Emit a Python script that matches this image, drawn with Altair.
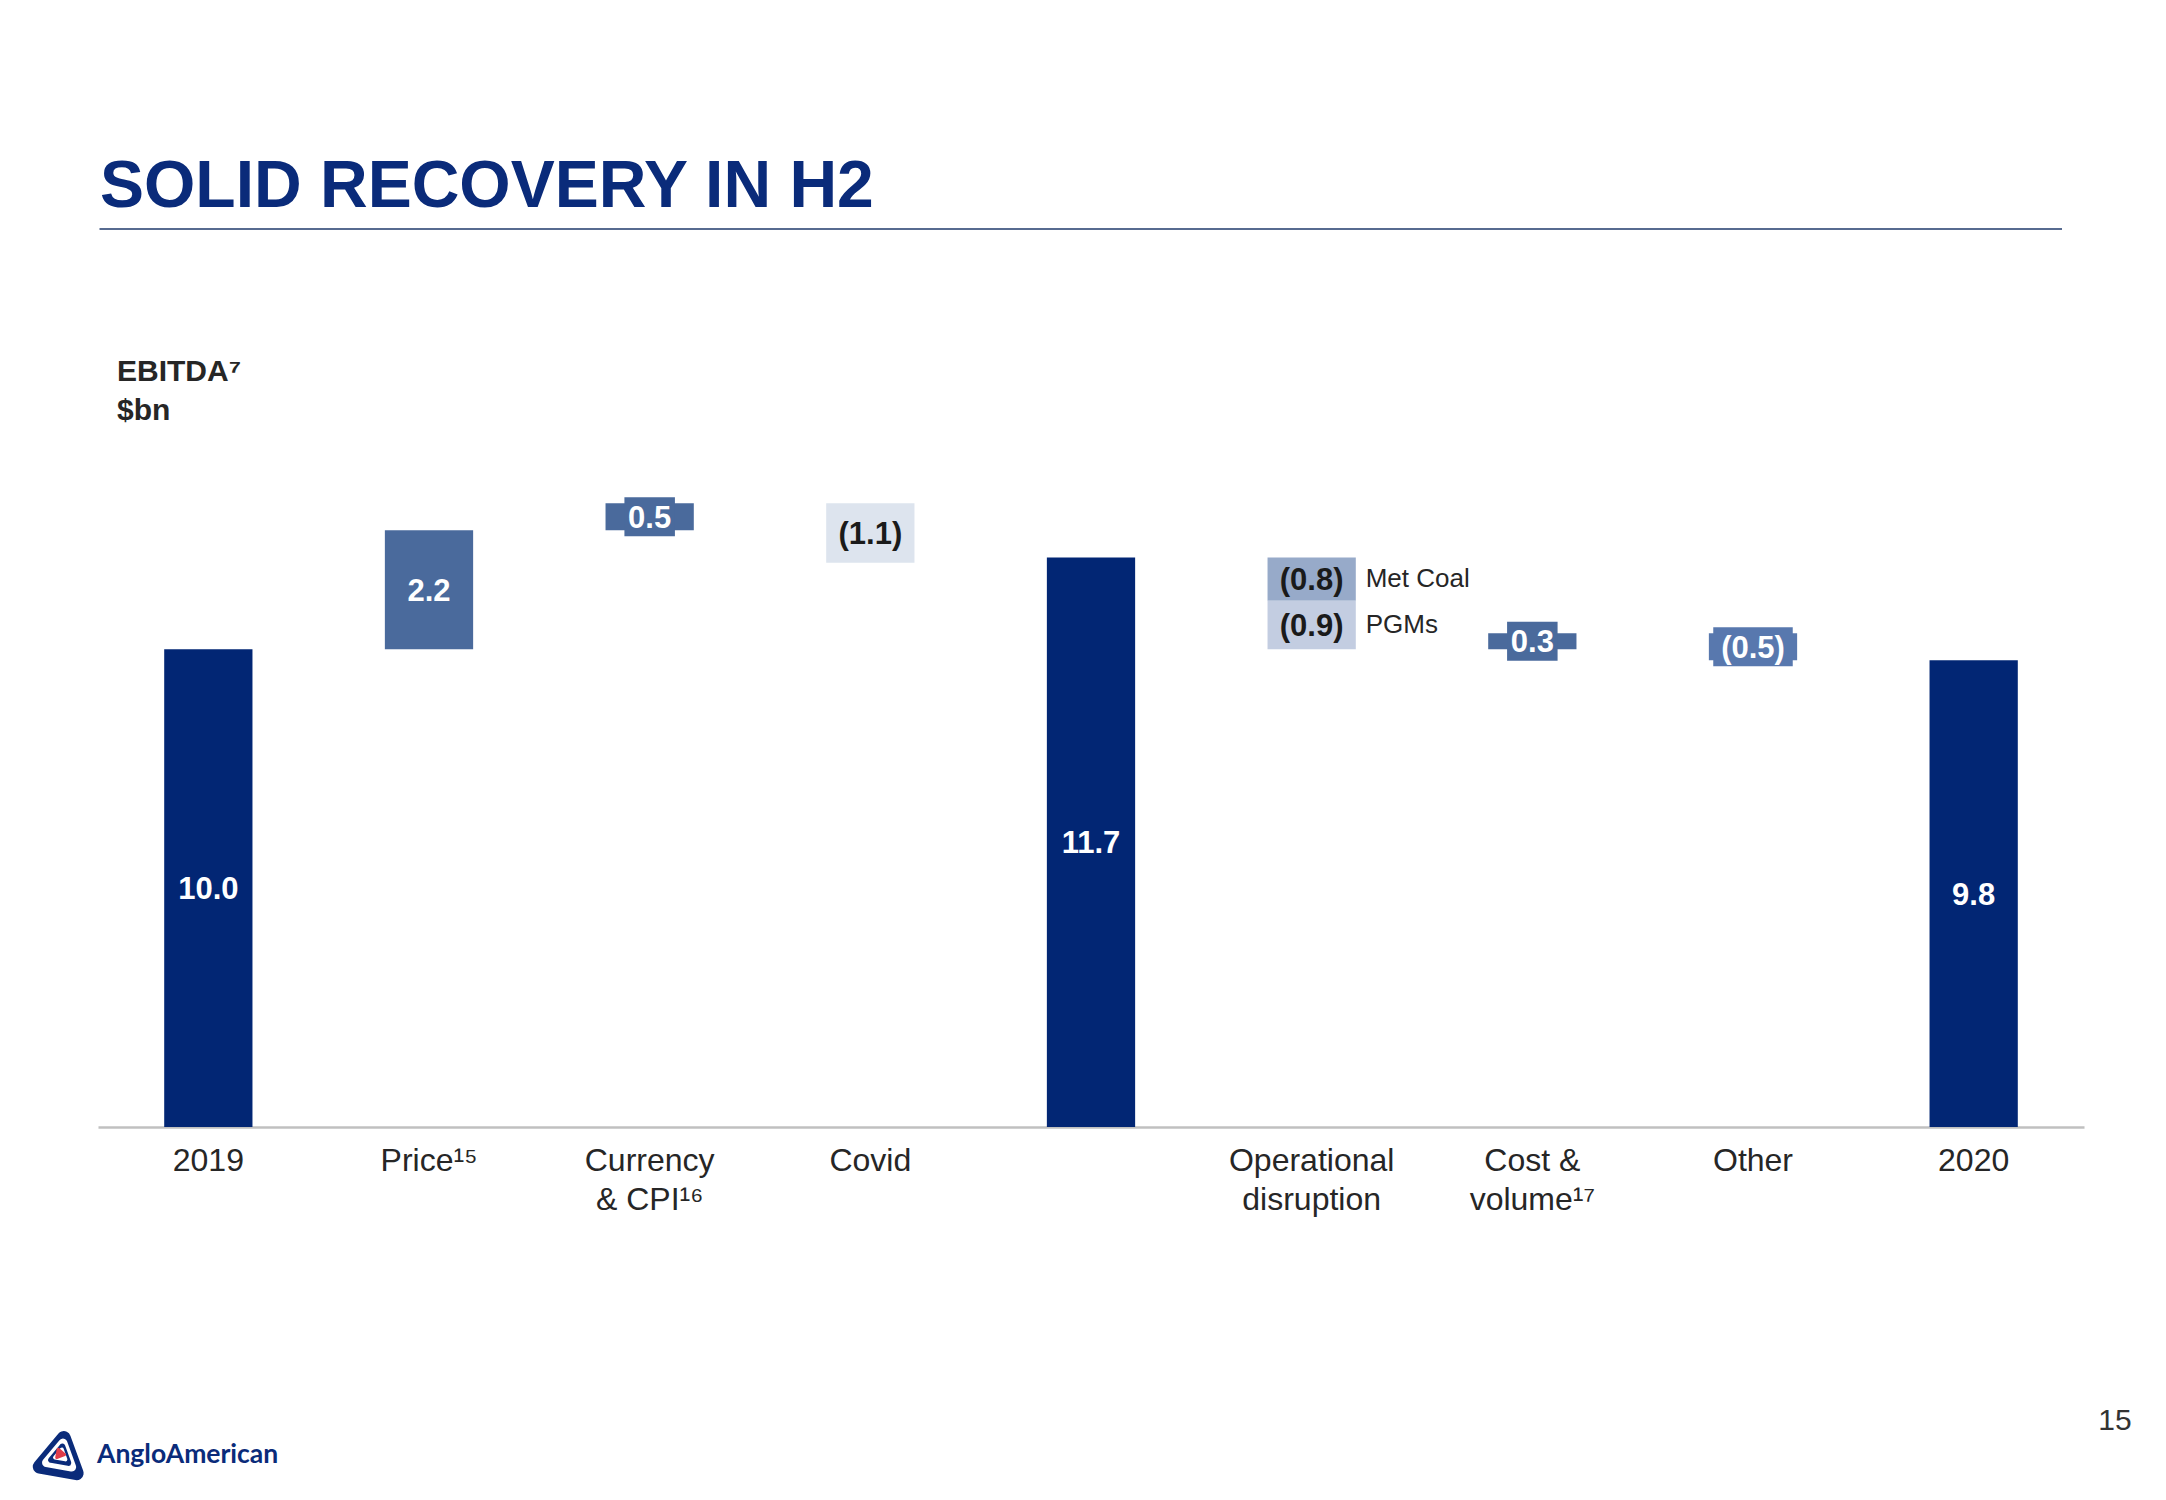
import altair as alt
import pandas as pd

# ---------------- data ----------------
TITLE = "SOLID RECOVERY IN H2"
Y_TITLE = "EBITDA\u2077\n$bn"
PAGE_NUMBER = "15"
BRAND = "AngloAmerican"

CATEGORIES = ["2019", "Price", "Currency & CPI", "Covid", "Subtotal",
              "Operational disruption", "Cost & volume", "Other", "2020"]
TICK_LABELS = ["2019", "Price\u00b9\u2075", "Currency\n& CPI\u00b9\u2076", "Covid", "",
               "Operational\ndisruption", "Cost &\nvolume\u00b9\u2077", "Other", "2020"]

SEGMENT_CATEGORY = ["2019", "Price", "Currency & CPI", "Covid", "Subtotal",
                    "Operational disruption", "Operational disruption",
                    "Cost & volume", "Other", "2020"]
SEGMENT_VALUE = [10.0, 2.2, 0.5, -1.1, 11.7, -0.8, -0.9, 0.3, -0.5, 9.8]
SEGMENT_IS_TOTAL = [True, False, False, False, True, False, False, False, False, True]
SEGMENT_NOTE = ["", "", "", "", "", "Met Coal", "PGMs", "", "", ""]

# value axis is truncated just below the baseline (as in the original slide)
AXIS_MIN = 1.17
AXIS_MAX = 14.0

# ---------------- style ----------------
FONT = "Liberation Sans, Arial, Helvetica, sans-serif"
NAVY = "#022674"
MID = "#4a6a9c"
SEGMENT_COLORS = [NAVY, MID, MID, "#dde4ee", NAVY, "#97aac9", "#c3cde1", MID, "#5878ae", NAVY]
SEGMENT_INK = ["white", "white", "white", "#1a1a1a", "white", "#1a1a1a", "#1a1a1a",
               "white", "white", "white"]
TEXT = "#262626"
BOX_HALF = 0.36

rows = []
running = 0.0
for i, (cat, val, tot, note) in enumerate(zip(SEGMENT_CATEGORY, SEGMENT_VALUE,
                                             SEGMENT_IS_TOTAL, SEGMENT_NOTE)):
    if tot:
        start, end = 0.0, val
        running = val
    else:
        start, end = running, running + val
        running = end
    lo, hi = min(start, end), max(start, end)
    mid = (max(lo, AXIS_MIN) + hi) / 2
    label = f"{val:.1f}" if val >= 0 else f"({-val:.1f})"
    rows.append(dict(seg=i, category=cat, note=note, start=start, end=end, mid=mid,
                     label=label, fill=SEGMENT_COLORS[i], ink=SEGMENT_INK[i],
                     boxed=(not tot) and abs(val) < 0.6))
seg_df = pd.DataFrame(rows)
tick_df = pd.DataFrame({"category": CATEGORIES, "label": TICK_LABELS})

W, H = 1986, 694

X = alt.X("category:N", sort=CATEGORIES, title=None,
          scale=alt.Scale(domain=CATEGORIES, paddingInner=0.6, paddingOuter=0.3),
          axis=alt.Axis(labels=False, ticks=False, grid=False, domainColor="#c0c0c0",
                        domainWidth=2.5, title=None))
YS = alt.Scale(domain=[AXIS_MIN, AXIS_MAX], zero=False, nice=False)

bars = alt.Chart(seg_df).mark_bar(clip=True).encode(
    x=X,
    y=alt.Y("start:Q", scale=YS, axis=None),
    y2="end:Q",
    color=alt.Color("fill:N", scale=None),
)

boxes = alt.Chart(seg_df).transform_filter("datum.boxed").transform_calculate(
    b0=f"datum.mid - {BOX_HALF}",
    b1=f"datum.mid + {BOX_HALF}",
    bw="length(datum.label) * 14.5 + 7",
).mark_bar().encode(
    x=X,
    y=alt.Y("b0:Q", scale=YS, axis=None),
    y2="b1:Q",
    size=alt.Size("bw:Q", scale=None),
    color=alt.Color("fill:N", scale=None),
)

values = alt.Chart(seg_df).mark_text(font=FONT, fontSize=31, fontWeight="bold",
                                     baseline="middle", dy=2).encode(
    x=X,
    y=alt.Y("mid:Q", scale=YS, axis=None),
    text="label:N",
    color=alt.Color("ink:N", scale=None),
)

notes = alt.Chart(seg_df).transform_filter("datum.note != ''").mark_text(
    font=FONT, fontSize=26, align="left", baseline="middle", dx=54, color=TEXT
).encode(
    x=X,
    y=alt.Y("mid:Q", scale=YS, axis=None),
    text="note:N",
)

ticks = alt.Chart(tick_df).mark_text(
    font=FONT, fontSize=32, baseline="alphabetic", lineBreak="\n", lineHeight=39, color=TEXT
).encode(x=X, y=alt.value(H + 44), text="label:N")

title = alt.Chart(pd.DataFrame({"t": [TITLE]})).mark_text(
    font=FONT, fontSize=66, fontWeight="bold", align="left", baseline="alphabetic", color="#0a2b7a"
).encode(x=alt.value(2), y=alt.value(-226), text="t:N")

title_rule = alt.Chart(pd.DataFrame({"t": [0]})).mark_rule(color="#1f3a6b", strokeWidth=1.5).encode(
    x=alt.value(1.5), x2=alt.value(1964), y=alt.value(-204)
)

ytitle = alt.Chart(pd.DataFrame({"t": [Y_TITLE]})).mark_text(
    font=FONT, fontSize=30, fontWeight="bold", align="left", baseline="alphabetic",
    lineBreak="\n", lineHeight=39, color=TEXT
).encode(x=alt.value(19), y=alt.value(-52), text="t:N")

page = alt.Chart(pd.DataFrame({"t": [PAGE_NUMBER]})).mark_text(
    font=FONT, fontSize=30, align="center", baseline="alphabetic", color="#333333"
).encode(x=alt.value(2017), y=alt.value(997), text="t:N")

brand = alt.Chart(pd.DataFrame({"t": [BRAND]})).mark_text(
    font="Lato, " + FONT, fontSize=26.5, fontWeight="bold", align="left", baseline="alphabetic",
    color="#0a2b7a"
).encode(x=alt.value(-1), y=alt.value(1030), text="t:N")

logo_df = pd.DataFrame({"t": [0]})
logo_layers = []
for shape, size, sw, col in [("triangle-up", 1400, 14, "#0a2b7a"),
                             ("triangle-up", 650, 9, "white"),
                             ("triangle-up", 300, 6, "#0a2b7a"),
                             ("triangle-up", 110, 4, "white"),
                             ("triangle-right", 70, 3, "#e03c4a")]:
    logo_layers.append(
        alt.Chart(logo_df).mark_point(shape=shape, size=size, filled=True, opacity=1,
                                      fill=col, stroke=col, strokeWidth=sw,
                                      strokeJoin="round", angle=10).encode(
            x=alt.value(-37), y=alt.value(1021))
    )

chart = alt.layer(
    bars, boxes, values, notes, ticks, title, title_rule, ytitle, page, brand, *logo_layers
).properties(
    width=W, height=H,
    autosize=alt.AutoSizeParams(type="none"),
    padding={"left": 90, "top": 425, "right": 70, "bottom": 355},
    background="white",
).configure_view(stroke=None)

chart.save("out.html", embed_options={"renderer": "svg", "actions": False})
